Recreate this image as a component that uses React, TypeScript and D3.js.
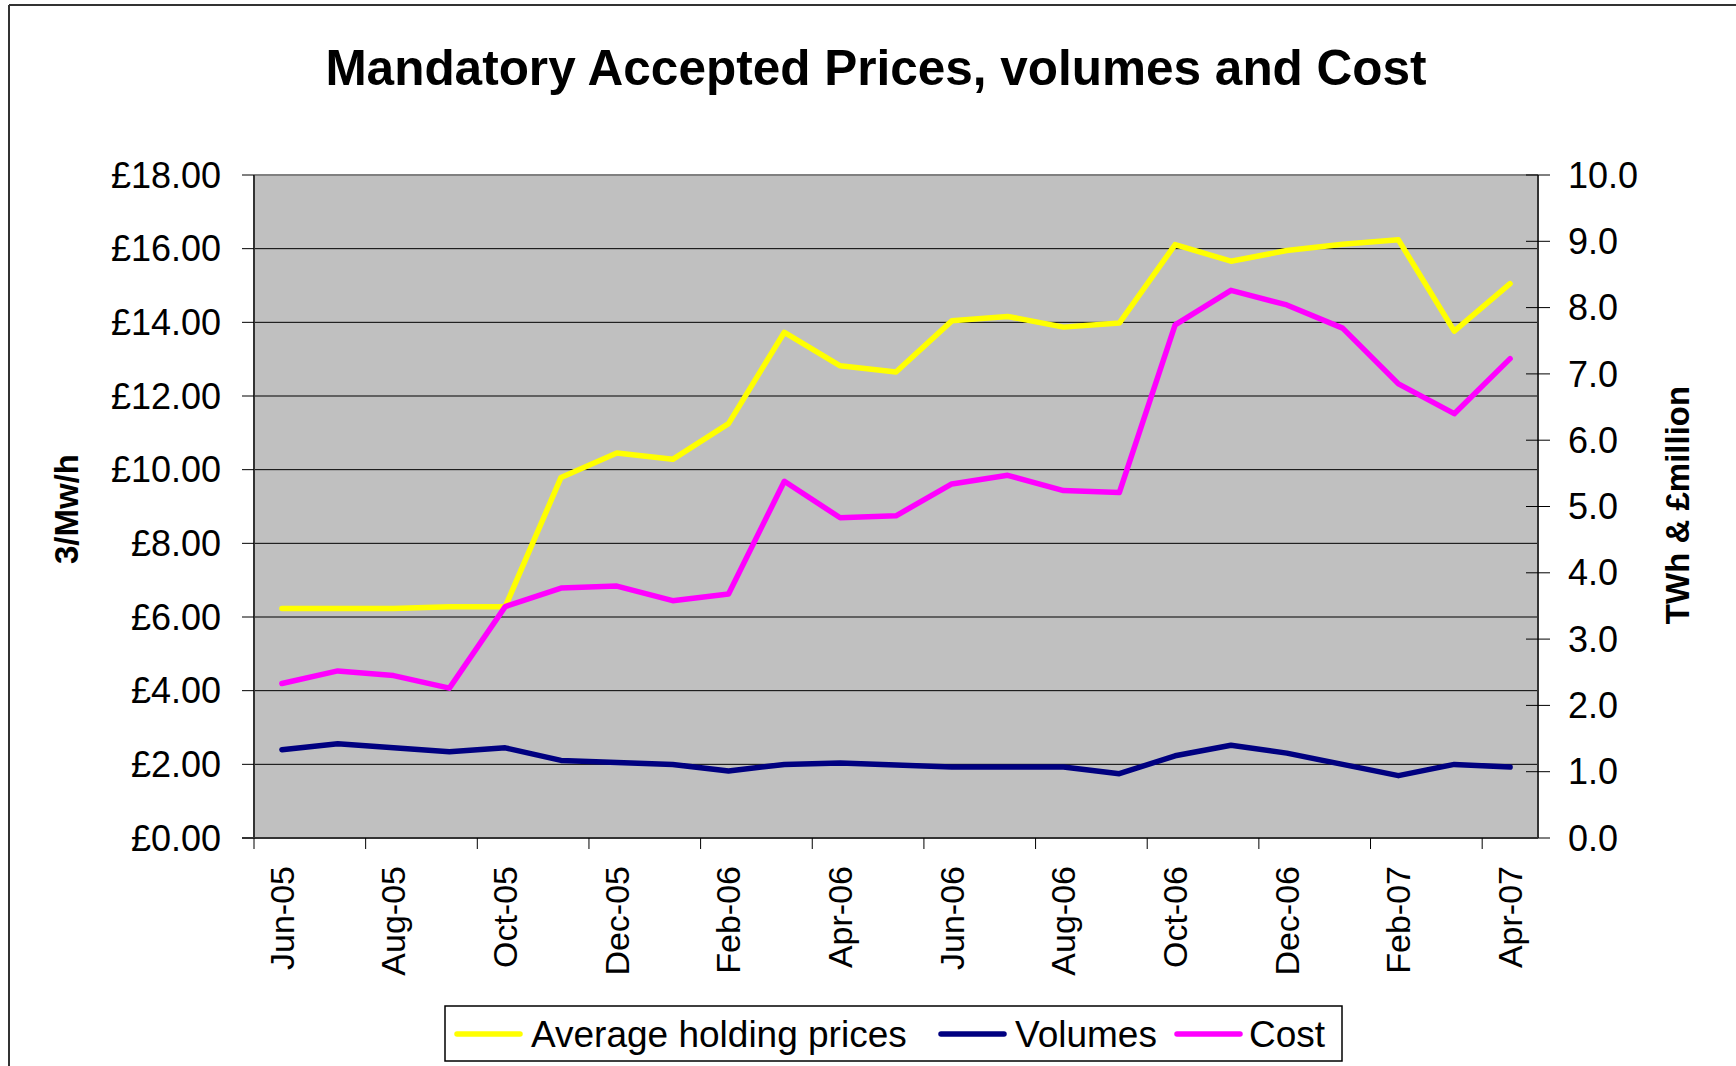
import React from "react";
import * as d3 from "d3";

const months = [
  "Jun-05","Jul-05","Aug-05","Sep-05","Oct-05","Nov-05","Dec-05","Jan-06","Feb-06","Mar-06","Apr-06","May-06",
  "Jun-06","Jul-06","Aug-06","Sep-06","Oct-06","Nov-06","Dec-06","Jan-07","Feb-07","Mar-07","Apr-07",
];
const avgHoldingPrices = [6.23,6.23,6.23,6.28,6.28,9.79,10.45,10.28,11.25,13.73,12.82,12.65,14.04,14.16,13.87,13.98,16.11,15.66,15.95,16.12,16.24,13.76,15.05];
const volumes = [1.33,1.42,1.36,1.30,1.36,1.17,1.14,1.11,1.01,1.11,1.13,1.10,1.07,1.07,1.07,0.97,1.24,1.40,1.28,1.11,0.94,1.11,1.07];
const cost = [2.33,2.52,2.45,2.26,3.49,3.77,3.80,3.58,3.68,5.38,4.83,4.86,5.34,5.47,5.24,5.21,7.74,8.26,8.04,7.69,6.85,6.40,7.23];
const leftTicks = [0,2,4,6,8,10,12,14,16,18];
const rightTicks = [0,1,2,3,4,5,6,7,8,9,10];

const W = 1736, H = 1066;
const PL = 254, PR = 1538, PT = 175, PB = 838;
const FONT = "'Liberation Sans', Arial, sans-serif";

export default function App() {
  const x = d3.scaleBand<string>().domain(months).range([PL, PR]).padding(0);
  const cx = (m: string) => (x(m) as number) + x.bandwidth() / 2;
  const yL = d3.scaleLinear().domain([0, 18]).range([PB, PT]);
  const yR = d3.scaleLinear().domain([0, 10]).range([PB, PT]);

  const lineL = d3.line<number>().x((_, i) => cx(months[i])).y((d) => yL(d));
  const lineR = d3.line<number>().x((_, i) => cx(months[i])).y((d) => yR(d));

  const boundaries = d3.range(0, months.length + 1, 2).map((i) => PL + i * x.bandwidth());

  const legendItems = [
    { label: "Average holding prices", color: "#ffff00", x0: 457, tx: 531 },
    { label: "Volumes", color: "#000080", x0: 941, tx: 1015 },
    { label: "Cost", color: "#ff00ff", x0: 1177, tx: 1249 },
  ];

  return (
    <svg width={W} height={H} style={{ position: "absolute", left: 0, top: 0, background: "#fff" }} fontFamily={FONT}>
      <rect x={0} y={0} width={W} height={H} fill="#fff" />
      <line x1={9} y1={5} x2={W} y2={5} stroke="#333" strokeWidth={2} />
      <line x1={9} y1={5} x2={9} y2={H} stroke="#333" strokeWidth={2} />

      <text x={876} y={85} textAnchor="middle" fontSize={49.5} fontWeight="bold">
        Mandatory Accepted Prices, volumes and Cost
      </text>

      <rect x={PL} y={PT} width={PR - PL} height={PB - PT} fill="#c0c0c0" />
      {leftTicks.slice(1, -1).map((t) => (
        <line key={"g" + t} x1={PL} x2={PR} y1={yL(t)} y2={yL(t)} stroke="#000" strokeWidth={1} />
      ))}
      <line x1={PL} x2={PR} y1={PT} y2={PT} stroke="#808080" strokeWidth={2} />

      {/* left axis */}
      <line x1={PL} x2={PL} y1={PT} y2={PB} stroke="#333" strokeWidth={2} />
      {leftTicks.map((t) => (
        <g key={"l" + t}>
          <line x1={PL - 12} x2={PL} y1={yL(t)} y2={yL(t)} stroke="#000" strokeWidth={1} />
          <text x={221} y={yL(t)} dy="0.35em" textAnchor="end" fontSize={36}>
            {"£" + t.toFixed(2)}
          </text>
        </g>
      ))}

      {/* right axis */}
      <line x1={PR} x2={PR} y1={PT} y2={PB} stroke="#333" strokeWidth={2} />
      {rightTicks.map((t) => (
        <g key={"r" + t}>
          <line x1={PR - 12} x2={PR + 12} y1={yR(t)} y2={yR(t)} stroke="#000" strokeWidth={1} />
          <text x={1568} y={yR(t)} dy="0.35em" textAnchor="start" fontSize={36}>
            {t.toFixed(1)}
          </text>
        </g>
      ))}

      {/* x axis */}
      <line x1={PL - 12} x2={PR} y1={PB} y2={PB} stroke="#333" strokeWidth={2} />
      {boundaries.map((b, i) => (
        <line key={"t" + i} x1={b} x2={b} y1={PB} y2={PB + 11} stroke="#000" strokeWidth={1} />
      ))}
      {months.filter((_, i) => i % 2 === 0).map((m) => (
        <text key={m} transform={`translate(${cx(m)},866) rotate(-90)`} dy="0.35em" textAnchor="end" fontSize={34}>
          {m}
        </text>
      ))}

      {/* series */}
      <path d={lineL(avgHoldingPrices) as string} fill="none" stroke="#ffff00" strokeWidth={5.5} strokeLinecap="round" strokeLinejoin="round" />
      <path d={lineR(volumes) as string} fill="none" stroke="#000080" strokeWidth={5.5} strokeLinecap="round" strokeLinejoin="round" />
      <path d={lineR(cost) as string} fill="none" stroke="#ff00ff" strokeWidth={5.5} strokeLinecap="round" strokeLinejoin="round" />

      {/* axis titles */}
      <text transform="translate(66,509) rotate(-90)" dy="0.35em" textAnchor="middle" fontSize={33} fontWeight="bold">
        3/Mw/h
      </text>
      <text transform="translate(1677,505) rotate(-90)" dy="0.35em" textAnchor="middle" fontSize={33} fontWeight="bold">
        TWh &amp; £million
      </text>

      {/* legend */}
      <rect x={445} y={1006} width={897} height={55} fill="#fff" stroke="#000" strokeWidth={1.5} />
      {legendItems.map((it) => (
        <g key={it.label}>
          <line x1={it.x0} x2={it.x0 + 63} y1={1034} y2={1034} stroke={it.color} strokeWidth={5.5} strokeLinecap="round" />
          <text x={it.tx} y={1034} dy="0.35em" fontSize={37}>
            {it.label}
          </text>
        </g>
      ))}
    </svg>
  );
}
